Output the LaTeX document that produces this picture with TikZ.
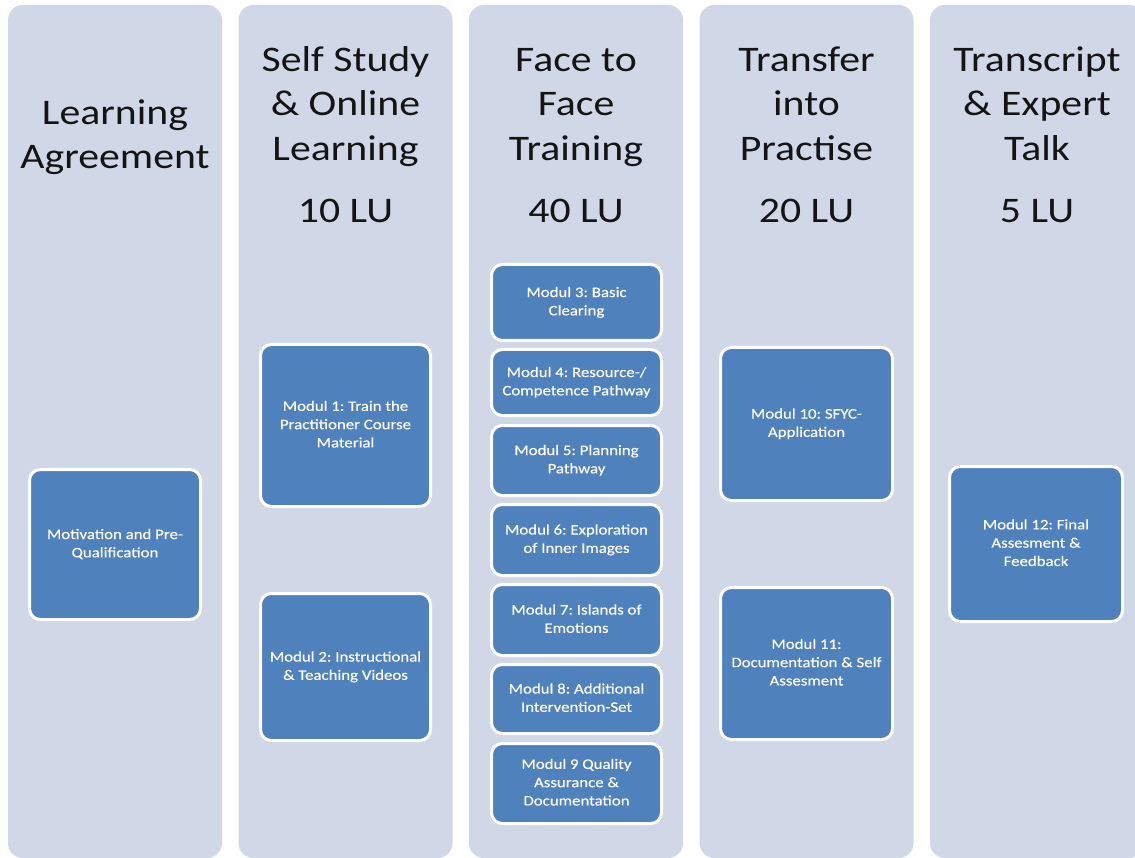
\documentclass[tikz,border=0pt]{standalone}
\usepackage{fontspec}
\setmainfont{Carlito}[FakeStretch=1.16]
\newfontfamily\modfont{Carlito}[FakeStretch=1.16, FakeBold=0.4]
\definecolor{colbg}{RGB}{208,216,232}
\definecolor{boxblue}{RGB}{79,129,189}
\definecolor{titlecol}{RGB}{20,20,20}
\tikzset{
  colbox/.style={rectangle, rounded corners=15pt, fill=colbg, draw=none,
    minimum width=214pt, minimum height=853pt, inner sep=0pt, outer sep=0pt},
  titletext/.style={align=center, text=titlecol, font=\fontsize{36}{44.5}\selectfont\frenchspacing, inner sep=0pt},
  modbox/.style={rectangle, rounded corners=11pt, fill=boxblue, draw=white, line width=3pt,
    align=center, text=white, font=\modfont\fontsize{14.5}{18.3}\selectfont\frenchspacing, inner sep=0pt},
}
\begin{document}
\begin{tikzpicture}[x=1pt,y=-1pt]
\useasboundingbox (0,0) rectangle (1135,858);
\fill[white] (0,0) rectangle (1135,858);
\clip (0,0) rectangle (1135,858);
% columns
\node[colbox] (c1) at (115,431.5) {};
\node[colbox] (c2) at (345.5,431.5) {};
\node[colbox] (c3) at (576,431.5) {};
\node[colbox] (c4) at (806.5,431.5) {};
\node[colbox] (c5) at (1037,431.5) {};
% titles
\node[titletext] (t1) at (115,137.5) {\strut Learning\\Agreement\strut};
\node[titletext] (t2) at (345.5,107) {\strut Self Study\\\& Online\\Learning\strut};
\node[titletext] (t3) at (576,107) {\strut Face to\\Face\\Training\strut};
\node[titletext] (t4) at (806.5,107) {\strut Transfer\\into\\Practise\strut};
\node[titletext] (t5) at (1037,107) {\strut Transcript\\\& Expert\\Talk\strut};
\node[titletext] (l2) at (345.5,214) {\strut 10 LU};
\node[titletext] (l3) at (576,214) {\strut 40 LU};
\node[titletext] (l4) at (806.5,214) {\strut 20 LU};
\node[titletext] (l5) at (1037,214) {\strut 5 LU};
% modules
\node[modbox, minimum width=171pt, minimum height=150pt] (m0) at (115,544.5) {\strut Motivation and Pre-\\Qualification\strut};
\node[modbox, minimum width=170pt, minimum height=162pt] (m1) at (345.5,425.5) {\strut Modul 1: Train the\\Practitioner Course\\Material\strut};
\node[modbox, minimum width=170pt, minimum height=147pt] (m2) at (345.5,667) {\strut Modul 2: Instructional\\\& Teaching Videos\strut};
\node[modbox, minimum width=170pt, minimum height=76pt] (m3) at (576.5,302.5) {\strut Modul 3: Basic\\Clearing\strut};
\node[modbox, minimum width=170pt, minimum height=66pt] (m4) at (576.5,382.5) {\strut Modul 4: Resource-/\\Competence Pathway\strut};
\node[modbox, minimum width=170pt, minimum height=70pt] (m5) at (576.5,460.5) {\strut Modul 5: Planning\\Pathway\strut};
\node[modbox, minimum width=170pt, minimum height=71pt] (m6) at (576.5,540) {\strut Modul 6: Exploration\\of Inner Images\strut};
\node[modbox, minimum width=170pt, minimum height=71pt] (m7) at (576.5,620) {\strut Modul 7: Islands of\\Emotions\strut};
\node[modbox, minimum width=170pt, minimum height=69pt] (m8) at (576.5,699) {\strut Modul 8: Additional\\Intervention-Set\strut};
\node[modbox, minimum width=170pt, minimum height=80pt] (m9) at (576.5,783.5) {\strut Modul 9 Quality\\Assurance \&\\Documentation\strut};
\node[modbox, minimum width=172pt, minimum height=153pt] (m10) at (806.5,424) {\strut Modul 10: SFYC-\\Application\strut};
\node[modbox, minimum width=172pt, minimum height=152pt] (m11) at (806.5,663.5) {\strut Modul 11:\\Documentation \& Self\\Assesment\strut};
\node[modbox, minimum width=173pt, minimum height=155pt] (m12) at (1036,544) {\strut Modul 12: Final\\Assesment \&\\Feedback\strut};
\end{tikzpicture}
\end{document}
